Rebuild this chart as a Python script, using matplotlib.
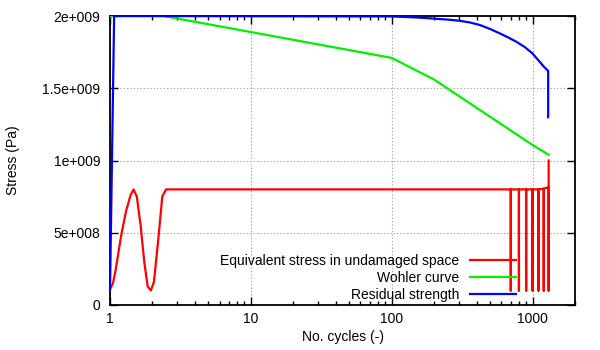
import matplotlib
matplotlib.use("Agg")
import matplotlib.pyplot as plt
from matplotlib.lines import Line2D
from matplotlib.ticker import LogLocator, NullFormatter

plt.rcParams['font.family'] = ['Liberation Sans', 'DejaVu Sans']

# equivalent stress in undamaged space (red)
eqX = [1.0, 1.05, 1.1, 1.2, 1.3, 1.4, 1.47, 1.55, 1.65, 1.75, 1.85, 1.95,
       2.05, 2.2, 2.35, 2.5,
       700, 700, 700, 800, 800, 800, 900, 900, 900, 1000, 1000, 1000,
       1100, 1100, 1100, 1200, 1200, 1200, 1300, 1300, 1300]
eqY = [1.1e8, 1.5e8, 2.5e8, 4.8e8, 6.5e8, 7.6e8, 8.0e8, 7.5e8, 5.5e8, 3.0e8,
       1.3e8, 1.0e8, 1.6e8, 4.5e8, 7.5e8, 8.0e8,
       8.0e8, 1.0e8, 8.0e8, 8.0e8, 1.0e8, 8.0e8, 8.0e8, 1.0e8, 8.0e8,
       8.0e8, 1.0e8, 8.0e8, 8.0e8, 1.0e8, 8.0e8, 8.05e8, 1.0e8, 8.05e8,
       8.15e8, 1.0e8, 1.0e9]

# Wohler curve (green)
wohX = [1.0, 2.4, 100, 200, 1000, 1300]
wohY = [2.0e9, 2.0e9, 1.71e9, 1.56e9, 1.107e9, 1.04e9]

# residual strength (blue)
resX = [1.0, 1.07, 100, 150, 186, 250, 304, 360, 421, 500, 584, 670, 766,
        880, 995, 1122, 1200, 1290, 1290]
resY = [1.0e8, 2.0e9, 1.997e9, 1.99e9, 1.984e9, 1.975e9, 1.967e9, 1.955e9,
        1.938e9, 1.91e9, 1.88e9, 1.852e9, 1.822e9, 1.785e9, 1.742e9,
        1.684e9, 1.65e9, 1.62e9, 1.30e9]

labels = ['Equivalent stress in undamaged space', 'Wohler curve',
          'Residual strength']
colors = ['#ff0000', '#00ee00', '#0000ff']

yTicks = [0, 5e8, 1e9, 1.5e9, 2e9]
yTickLabels = ['0', '5e+008', '1e+009', '1.5e+009', '2e+009']
xTicks = [1, 10, 100, 1000]
xTickLabels = ['1', '10', '100', '1000']

fig = plt.figure(figsize=(6, 3.5), dpi=100)
ax = fig.add_axes([110/600, 45/350, 465/600, 289/350])

lw = 1.6
ax.plot(eqX, eqY, color=colors[0], linewidth=lw, zorder=3)
ax.plot(wohX, wohY, color=colors[1], linewidth=lw, zorder=3)
ax.plot(resX, resY, color=colors[2], linewidth=lw, zorder=3)

ax.set_xscale('log')
ax.set_xlim(1, 2000)
ax.set_ylim(0, 2e9)

ax.set_xticks(xTicks)
ax.set_xticklabels(xTickLabels)
ax.xaxis.set_minor_locator(LogLocator(base=10, subs=range(2, 10)))
ax.xaxis.set_minor_formatter(NullFormatter())
ax.set_yticks(yTicks)
ax.set_yticklabels(yTickLabels)

ax.tick_params(which='major', direction='in', length=6, width=1,
               top=True, right=True, labelsize=10, pad=7)
ax.tick_params(axis='x', which='major', pad=5)
ax.tick_params(which='minor', direction='in', length=3, width=1,
               top=True, right=False)
ax.grid(True, which='major', color='#999999', linestyle=(0, (1, 2)),
        linewidth=0.8)
for s in ax.spines.values():
    s.set_linewidth(1.3)

ax.set_xlabel('No. cycles (-)', fontsize=10, labelpad=3)
ax.set_ylabel('Stress (Pa)', fontsize=10, labelpad=16)

handles = [Line2D([], [], color=c, linewidth=lw) for c in colors]
leg = ax.legend(handles, labels, markerfirst=False, frameon=False,
                fontsize=10, handlelength=3.3, handletextpad=0.8,
                labelspacing=0.22, loc='lower right',
                bbox_to_anchor=(516/600, 48/350),
                bbox_transform=fig.transFigure, borderaxespad=0,
                borderpad=0)

fig.savefig('out.png', dpi=100)
